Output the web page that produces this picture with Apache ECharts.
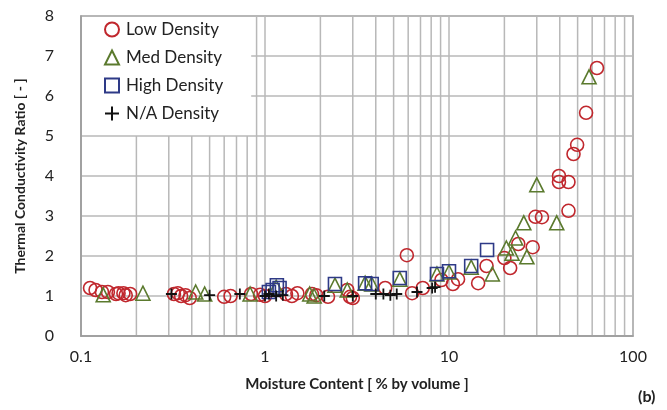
<!DOCTYPE html>
<html><head><meta charset="utf-8">
<script src="https://cdn.jsdelivr.net/npm/echarts@6/dist/echarts.min.js"></script>
<style>html,body{margin:0;padding:0;background:#fff}#c{width:667px;height:410px}</style>
</head><body><div id="c"></div>
<script>
const lowX = [0.112,0.12,0.13,0.14,0.155,0.16,0.17,0.175,0.185,0.32,0.336,0.35,0.37,0.39,0.6,0.65,0.84,0.94,1.0,1.3,1.4,1.5,1.8,1.9,2.2,2.8,2.9,3.0,4.5,5.9,6.3,7.2,9.1,10.5,11.2,14.4,16,20,21.5,23.8,28.5,29.5,32,39.6,39.6,44.6,44.6,47.5,49.7,55.6,63.7];
const lowY = [1.2,1.15,1.1,1.1,1.05,1.07,1.07,1.02,1.05,1.05,1.07,1.0,1.02,0.95,0.98,1.0,1.05,1.03,1.0,1.05,1.0,1.07,1.05,1.02,0.98,1.15,0.98,0.95,1.2,2.02,1.07,1.2,1.4,1.3,1.42,1.32,1.75,1.95,1.7,2.3,2.22,2.98,2.97,3.85,4.0,3.85,3.13,4.55,4.78,5.58,6.7];
const medX = [0.132,0.217,0.42,0.47,0.83,1.15,1.75,1.85,2.4,2.8,3.5,3.8,5.4,8.6,10,13.2,17.2,20.5,22,23,25.5,26.5,30,38.5,57.7];
const medY = [1.03,1.07,1.1,1.05,1.05,1.22,1.05,1.0,1.27,1.15,1.32,1.3,1.42,1.55,1.6,1.72,1.55,2.2,2.07,2.45,2.83,1.98,3.78,2.83,6.48];
const highX = [1.05,1.1,1.16,1.2,2.4,3.5,3.8,5.4,8.6,10,13.2,16.1];
const highY = [1.1,1.15,1.27,1.2,1.3,1.32,1.3,1.45,1.55,1.62,1.75,2.15];
const naX = [0.31,0.5,0.73,1.0,1.05,1.15,1.25,2.1,3.0,4.0,4.4,4.8,5.2,6.7,8.1,8.4];
const naY = [1.05,1.02,1.05,1.0,1.05,1.0,1.02,1.0,1.0,1.05,1.05,1.02,1.05,1.1,1.2,1.22];
const seriesNames = ['Low Density','Med Density','High Density','N/A Density'];
const minorX = [0.2,0.3,0.4,0.5,0.6,0.7,0.8,0.9,2,3,4,5,6,7,8,9,20,30,40,50,60,70,80,90];

const zip = (a,b) => a.map((v,i)=>[v,b[i]]);
const FONT = 'Lato';
const LEGEND_RIGHT_PX = 251, LEGEND_BOTTOM_PX = 136;
const chart = echarts.init(document.getElementById('c'));
const mk = (name, xs, ys, symbol, size, color, bw) => ({
  name, type:'scatter', data: zip(xs,ys), symbol, symbolSize:size, z:3,
  itemStyle:{color:'rgba(0,0,0,0)', borderColor:color, borderWidth:bw, opacity:1}
});
chart.setOption({
  animation:false,
  grid:{left:81,right:34,top:16,bottom:74,show:true,borderColor:'#9a9a9a',borderWidth:1.5},
  xAxis:{type:'log',logBase:10,min:0.1,max:100,
    axisLine:{show:true,lineStyle:{color:'#9a9a9a',width:1.5}},
    axisTick:{show:false},
    axisLabel:{fontFamily:FONT,fontSize:16,color:'#222',margin:13,
      formatter:v=>String(v)},
    splitLine:{show:true,lineStyle:{color:'#b8b8b8',width:1.5}},
    name:'Moisture Content [ % by volume ]',nameLocation:'middle',nameGap:41,
    nameTextStyle:{fontFamily:FONT,fontSize:15,fontWeight:'bold',color:'#222'}},
  yAxis:{type:'value',min:0,max:8,interval:1,
    axisLine:{show:true,lineStyle:{color:'#9a9a9a',width:1.5}},
    axisTick:{show:false},
    axisLabel:{fontFamily:FONT,fontSize:16,color:'#222',margin:27},
    splitLine:{show:true,lineStyle:{color:'#b8b8b8',width:1.5}},
    name:'Thermal Conductivity Ratio [ - ]',nameLocation:'middle',nameGap:54,
    nameTextStyle:{fontFamily:FONT,fontSize:14,fontWeight:'bold',color:'#222'}},
  legend:{data:seriesNames,orient:'vertical',left:82,top:17,z:20,
    backgroundColor:'#fff',padding:[4,28,12,22],itemGap:11,itemWidth:14,itemHeight:14,
    textStyle:{fontFamily:FONT,fontSize:17,color:'#222',padding:[0,0,0,2]}},
  graphic:[{type:'text',left:638,top:389,style:{text:'(b)',font:'bold 16px Lato',fill:'#222'}}],
  series:[
    {name:'minorGrid',type:'custom',silent:true,z:0,data:minorX.map(v=>[v]),
     encode:{x:0},
     renderItem:(params,api)=>{
       const x = api.value(0);
       const p0 = api.coord([x,0]), p1 = api.coord([x,8]);
       const yTop = p0[0] < LEGEND_RIGHT_PX ? LEGEND_BOTTOM_PX : p1[1];
       return {type:'line',shape:{x1:p0[0],y1:p0[1],x2:p1[0],y2:yTop},
         style:{stroke:'#b8b8b8',lineWidth:1.5}};
     }},
    mk('Low Density',lowX,lowY,'circle',13,'#c0272d',1.6),
    mk('Med Density',medX,medY,'triangle',14,'#5b7a2e',1.6),
    mk('High Density',highX,highY,'rect',13,'#2e3a87',1.6),
    mk('N/A Density',naX,naY,'path://M0,6H12M6,0V12',11,'#111',1.8)
  ]
});
</script></body></html>
